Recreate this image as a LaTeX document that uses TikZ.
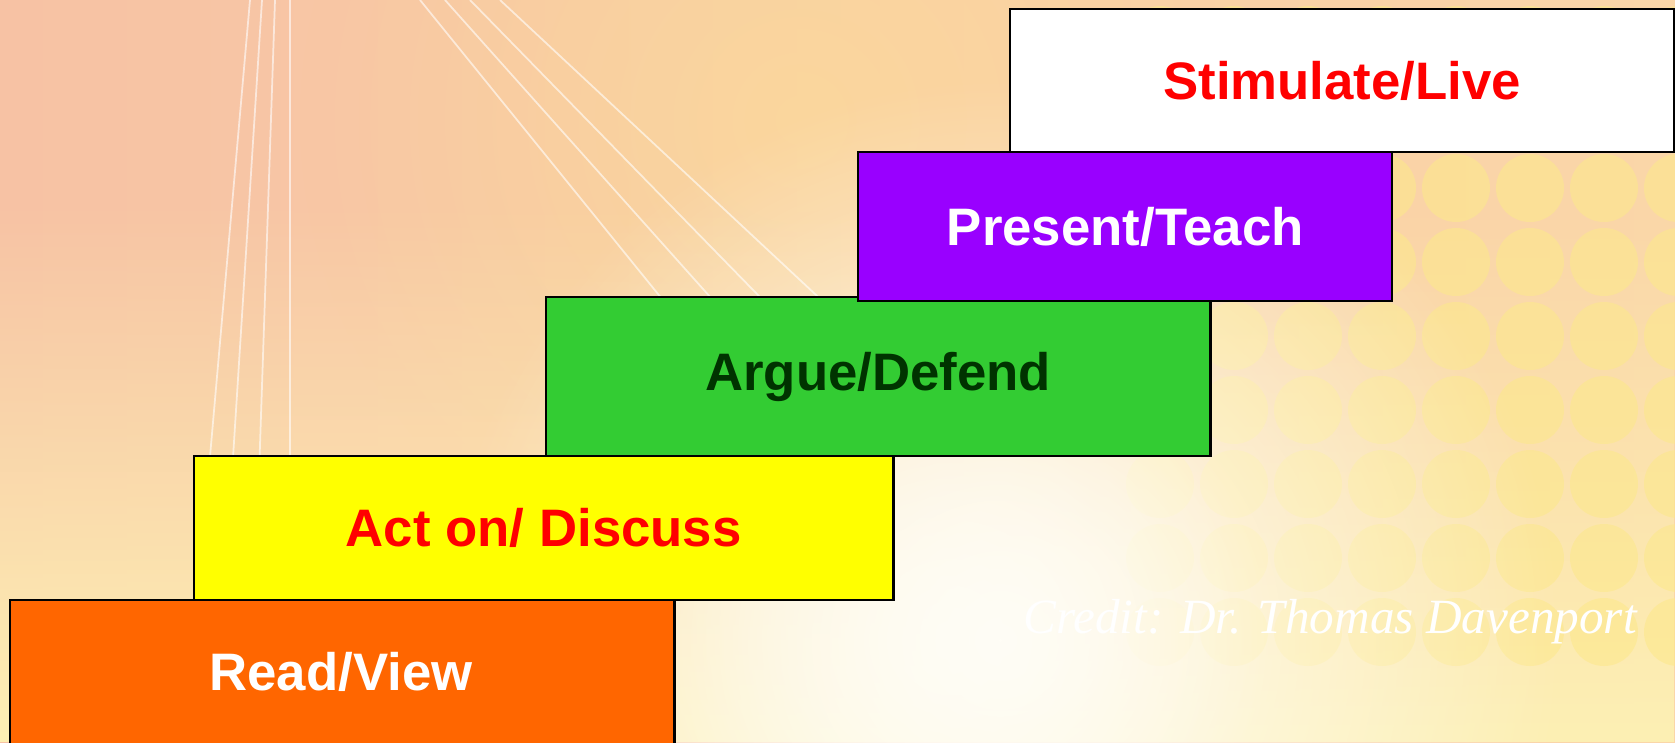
\documentclass[tikz,border=0pt]{standalone}
\usepackage{fontspec}
\setmainfont{Liberation Sans}
\newfontfamily\creditfont{Liberation Serif}
\usetikzlibrary{fadings}
\definecolor{StepOrange}{HTML}{FF6600}
\definecolor{StepYellow}{HTML}{FFFF00}
\definecolor{StepGreen}{HTML}{33CC33}
\definecolor{StepPurple}{HTML}{9900FF}
\definecolor{TextRed}{HTML}{FF0000}
\definecolor{TextGreen}{HTML}{003300}
\definecolor{BgLeft}{HTML}{F7C2A4}
\definecolor{BgMid}{HTML}{FDE294}
\definecolor{BgRight}{HTML}{FAD6A8}
\definecolor{BgLow}{HTML}{FDF0B4}
\definecolor{BgCream}{HTML}{FFFDF6}
\definecolor{BgDot}{HTML}{FCE88C}
\tikzfading[name=spotfade, inner color=transparent!0, outer color=transparent!100]
\tikzfading[name=fadeup, top color=transparent!100, bottom color=transparent!0]

\begin{document}
\begin{tikzpicture}[x=0.01cm, y=-0.01cm,
    stepbox/.style={draw=black, line width=0.6pt, inner sep=0pt,
      anchor=north west, font=\fontsize{15}{18}\selectfont\bfseries},
    ray/.style={white, opacity=0.6, line width=0.5pt},
    dot/.style={BgDot, opacity=0.6}]
  \useasboundingbox (0,0) rectangle (1675,742);
  \clip (0,0) rectangle (1675,742);
  % background: warm gradient, lighter low down, bright spot in the middle
  \shade[left color=BgLeft, middle color=BgMid, right color=BgRight]
    (0,0) rectangle (1675,742);
  \fill[BgMid, opacity=0.5, path fading=spotfade] (800,120) circle (500);
  \fill[BgLow, path fading=fadeup] (0,200) rectangle (1675,742);
  % dotted texture on the right
  \foreach \i in {0,...,7}
    \foreach \j in {0,...,8}
      \fill[dot] ({1160+\i*74},{40+\j*74}) circle (34);
  \fill[BgCream, path fading=spotfade] (1000,640) circle (560);
  \fill[BgCream, opacity=0.8, path fading=spotfade] (950,640) circle (320);
  % faint rays of the backdrop
  \foreach \xa/\xb in {250/185, 262/215, 275/250, 290/290}
    \draw[ray] (\xa,0) -- (\xb,742);
  \foreach \xa/\xb in {420/760, 445/820, 470/880, 500/950}
    \draw[ray] (\xa,0) -- (\xb,420);
  % the steps, lowest first
  \node[stepbox, fill=StepOrange, minimum width=6.64cm, minimum height=1.51cm]
    (read) at (9,599) {};
  \node[white, font=\fontsize{15}{18}\selectfont\bfseries]
    (readtxt) at (341,672) {Read/View};
  \node[stepbox, fill=StepYellow, minimum width=6.99cm, minimum height=1.44cm]
    (act) at (193,455) {};
  \node[TextRed, font=\fontsize{15}{18}\selectfont\bfseries]
    (acttxt) at (act.center) {Act on/ Discuss};
  \node[stepbox, fill=StepGreen, minimum width=6.64cm, minimum height=1.59cm,
    text=TextGreen] (argue) at (545,296) {Argue/Defend};
  \node[stepbox, fill=StepPurple, minimum width=5.34cm, minimum height=1.49cm,
    text=white] (present) at (857,151) {Present/Teach};
  \node[stepbox, fill=white, minimum width=6.64cm, minimum height=1.43cm,
    text=TextRed] (stimulate) at (1009,8) {Stimulate/Live};
  % credit line
  \node[white, font=\creditfont\itshape\fontsize{14}{16}\selectfont,
    anchor=base] (credit) at (1330,633) {Credit: Dr. Thomas Davenport};
\end{tikzpicture}
\end{document}
